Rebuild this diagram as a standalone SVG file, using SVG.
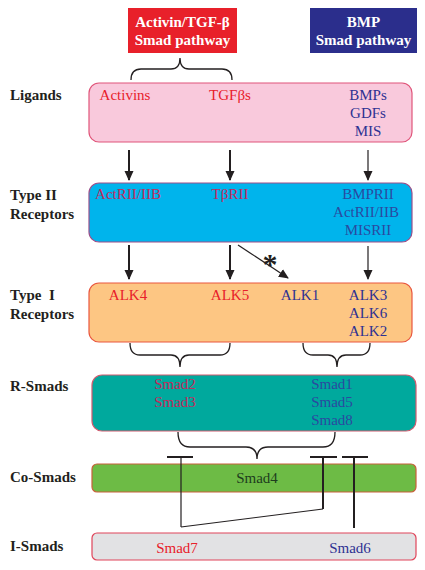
<svg xmlns="http://www.w3.org/2000/svg" width="425" height="570" viewBox="0 0 425 570">
<defs>
<marker id="ah" markerUnits="userSpaceOnUse" markerWidth="10" markerHeight="10" viewBox="0 0 10 10" refX="9" refY="5" orient="auto">
<path d="M0,0.5 L10,5 L0,9.5 Z" fill="#231f20"/>
</marker>
</defs>
<style>
.lbl{font-family:"Liberation Serif","Times New Roman",serif;font-weight:bold;font-size:15px;fill:#231f20}
.t{font-family:"Liberation Serif","Times New Roman",serif;font-size:15px;text-anchor:middle}
.hd{font-family:"Liberation Serif","Times New Roman",serif;font-weight:bold;font-size:15px;fill:#fff;text-anchor:middle}
.red{fill:#e8202a}
.crim{fill:#c22a5c}
.blue{fill:#2e3192}
.blu2{fill:#2a4aa0}
.brace{fill:none;stroke:#231f20;stroke-width:1.3}
.thick{stroke:#231f20;stroke-width:2;fill:none}
.thin{stroke:#231f20;stroke-width:1.2;fill:none}
</style>
<rect width="425" height="570" fill="#fff"/>

<g id="header-tgf">
<rect x="128" y="8" width="109" height="45" fill="#e8202a"/>
<text class="hd" x="182.5" y="27">Activin/TGF-β</text>
<text class="hd" x="182.5" y="45">Smad pathway</text>
</g>
<g id="header-bmp">
<rect x="310" y="8" width="107" height="45" fill="#2b2e8c"/>
<text class="hd" x="363.5" y="27">BMP</text>
<text class="hd" x="363.5" y="45">Smad pathway</text>
</g>

<g id="ligands">
<text class="lbl" x="10" y="100">Ligands</text>
<rect x="89" y="83" width="323" height="59" rx="10" fill="#f9c9dc" stroke="#e0557a" stroke-width="1.2"/>
<text class="t red" x="125" y="100">Activins</text>
<text class="t red" x="230" y="100">TGFβs</text>
<text class="t blue" x="368" y="100">BMPs</text>
<text class="t blue" x="368" y="118">GDFs</text>
<text class="t blue" x="368" y="136">MIS</text>
</g>

<g id="type2">
<text class="lbl" x="10" y="200">Type II</text>
<text class="lbl" x="10" y="219">Receptors</text>
<rect x="89" y="183" width="323" height="59" rx="10" fill="#00b4ec" stroke="#9b4f8a" stroke-width="1.2"/>
<text class="t crim" x="128" y="199">ActRII/IIB</text>
<text class="t crim" x="230" y="199">TβRII</text>
<text class="t blu2" x="368" y="199">BMPRII</text>
<text class="t blu2" x="366" y="217">ActRII/IIB</text>
<text class="t blu2" x="368" y="235">MISRII</text>
</g>

<g id="type1">
<text class="lbl" x="10" y="300" xml:space="preserve">Type  I</text>
<text class="lbl" x="10" y="319">Receptors</text>
<rect x="89" y="283" width="323" height="59" rx="10" fill="#fdc683" stroke="#e9573f" stroke-width="1.2"/>
<text class="t red" x="128" y="300">ALK4</text>
<text class="t red" x="230" y="300">ALK5</text>
<text class="t blue" x="300" y="300">ALK1</text>
<text class="t blue" x="368" y="300">ALK3</text>
<text class="t blue" x="368" y="318">ALK6</text>
<text class="t blue" x="368" y="336">ALK2</text>
</g>

<g id="rsmads">
<text class="lbl" x="10" y="391">R-Smads</text>
<rect x="92" y="375" width="324" height="56" rx="10" fill="#00a99d" stroke="#d05a6e" stroke-width="1.2"/>
<text class="t crim" x="175" y="389">Smad2</text>
<text class="t crim" x="175" y="407">Smad3</text>
<text class="t blu2" x="332" y="389">Smad1</text>
<text class="t blu2" x="332" y="407">Smad5</text>
<text class="t blu2" x="332" y="425">Smad8</text>
</g>

<g id="cosmads">
<text class="lbl" x="10" y="482">Co-Smads</text>
<rect x="92" y="464" width="324" height="28" rx="5" fill="#6dbb45" stroke="#c8603a" stroke-width="1.2"/>
<text class="t" x="257" y="483" fill="#1e3d1e">Smad4</text>
</g>

<g id="ismads">
<text class="lbl" x="10" y="551">I-Smads</text>
<rect x="92" y="533" width="324" height="27" rx="5" fill="#e2e2e4" stroke="#e0455a" stroke-width="1.2"/>
<text class="t red" x="177" y="553">Smad7</text>
<text class="t blue" x="350" y="553">Smad6</text>
</g>

<g id="connectors">
<path class="brace" d="M131,80 Q131,69 141,69 L171,69 Q180,69 180,58 Q180,69 189,69 L222,69 Q232,69 232,80"/>
<line class="thick" x1="129" y1="150" x2="129" y2="180" marker-end="url(#ah)"/>
<line class="thick" x1="230" y1="150" x2="230" y2="180" marker-end="url(#ah)"/>
<line class="thin" x1="368" y1="150" x2="368" y2="180" marker-end="url(#ah)"/>
<line class="thick" x1="129" y1="245" x2="129" y2="279" marker-end="url(#ah)"/>
<line class="thick" x1="230" y1="245" x2="230" y2="279" marker-end="url(#ah)"/>
<line class="thin" x1="238" y1="245" x2="288" y2="278" marker-end="url(#ah)"/>
<line class="thin" x1="368" y1="246" x2="368" y2="279" marker-end="url(#ah)"/>
<text x="270" y="274" font-family="Liberation Serif, Times New Roman, serif" font-weight="bold" font-size="30" text-anchor="middle" fill="#231f20">*</text>
<path class="brace" d="M130,343 Q130,355 140,355 L171,355 Q180,355 180,367 Q180,355 189,355 L220,355 Q230,355 230,343"/>
<path class="brace" d="M303,343 Q303,355 313,355 L328,355 Q337,355 337,367 Q337,355 346,355 L360,355 Q370,355 370,343"/>
<path class="brace" d="M178,432 Q178,447 190,447 L246,447 Q257,447 257,459 Q257,447 268,447 L323,447 Q335,447 335,432"/>
<line class="thick" x1="167" y1="457" x2="193" y2="457"/>
<line class="thin" x1="181" y1="457" x2="181" y2="527"/>
<line class="thick" x1="310" y1="457" x2="337" y2="457"/>
<line class="thick" x1="323" y1="457" x2="323" y2="509"/>
<line class="thin" x1="181" y1="527" x2="323" y2="509"/>
<line class="thick" x1="342" y1="457" x2="368" y2="457"/>
<line class="thick" x1="354" y1="457" x2="354" y2="528"/>
</g>
</svg>
